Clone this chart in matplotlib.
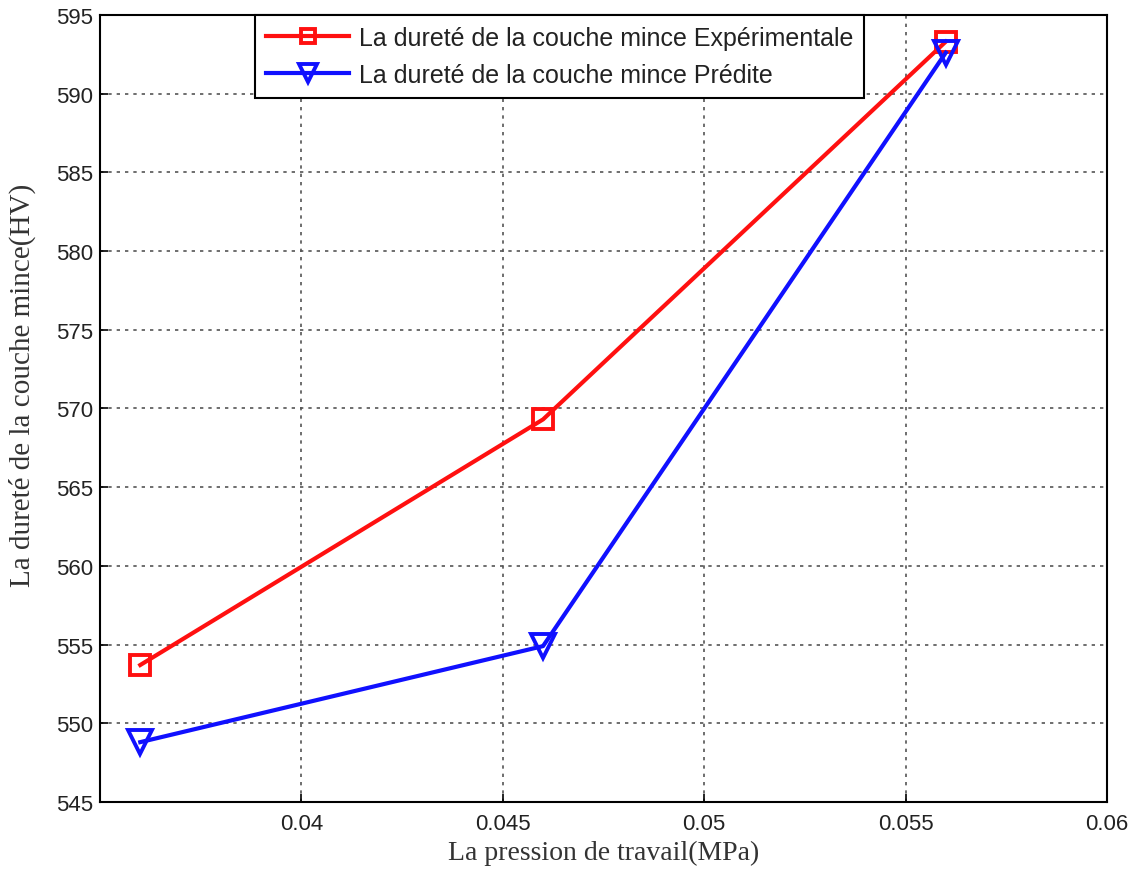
import matplotlib.pyplot as plt
import numpy as np

# pression de travail (MPa)
pression = [0.036, 0.046, 0.056]

# durete de la couche mince (HV)
durete_exp = [553.7, 569.3, 593.3]
durete_pred = [548.8, 554.9, 592.6]

xticks = [0.04, 0.045, 0.05, 0.055, 0.06]
xticklabels = ["0.04", "0.045", "0.05", "0.055", "0.06"]
yticks = np.arange(545, 596, 5)

fig = plt.figure(figsize=(11.4, 8.79), dpi=100)
ax = fig.add_axes([0.0877, 0.0865, 0.8833, 0.8955])

ax.plot(pression, durete_exp, color="#ff1010", lw=3, marker="s", ms=14,
        mfc="none", mec="#ff1010", mew=2.8,
        label="La dureté de la couche mince Expérimentale", zorder=3)
ax.plot(pression, durete_pred, color="#1010ff", lw=3, marker="v", ms=17,
        mfc="none", mec="#1010ff", mew=2.8,
        label="La dureté de la couche mince Prédite", zorder=3)

ax.set_xlim(0.035, 0.06)
ax.set_ylim(545, 595)
ax.set_xticks(xticks)
ax.set_xticklabels(xticklabels)
ax.set_yticks(yticks)

ax.grid(True, linestyle=(0, (2, 3)), color="#555555", lw=1.2)
ax.tick_params(direction="in", length=6, width=1.2, labelsize=16)
ax.tick_params(axis="x", pad=8)
ax.tick_params(axis="y", pad=5)
for lbl in ax.get_xticklabels() + ax.get_yticklabels():
    lbl.set_family("Liberation Sans")
    lbl.set_color("#222222")
for s in ax.spines.values():
    s.set_linewidth(1.5)

ax.set_xlabel("La pression de travail(MPa)", family="Liberation Serif",
              fontsize=20, labelpad=4, color="#333333")
ax.set_ylabel("La dureté de la couche mince(HV)", family="Liberation Serif",
              fontsize=21, color="#333333")
ax.yaxis.set_label_coords(-0.064, 0.53)

leg = ax.legend(loc="upper left", bbox_to_anchor=(0.154, 1.0), borderaxespad=0,
                prop={"family": "Liberation Sans", "size": 18},
                fancybox=False, framealpha=1, edgecolor="black",
                handlelength=3.3, borderpad=0.45, labelspacing=0.5,
                handletextpad=0.4, markerscale=0.75)
leg.get_frame().set_linewidth(1.5)
for t in leg.get_texts():
    t.set_color("#222222")

plt.savefig("out.png", dpi=100)
